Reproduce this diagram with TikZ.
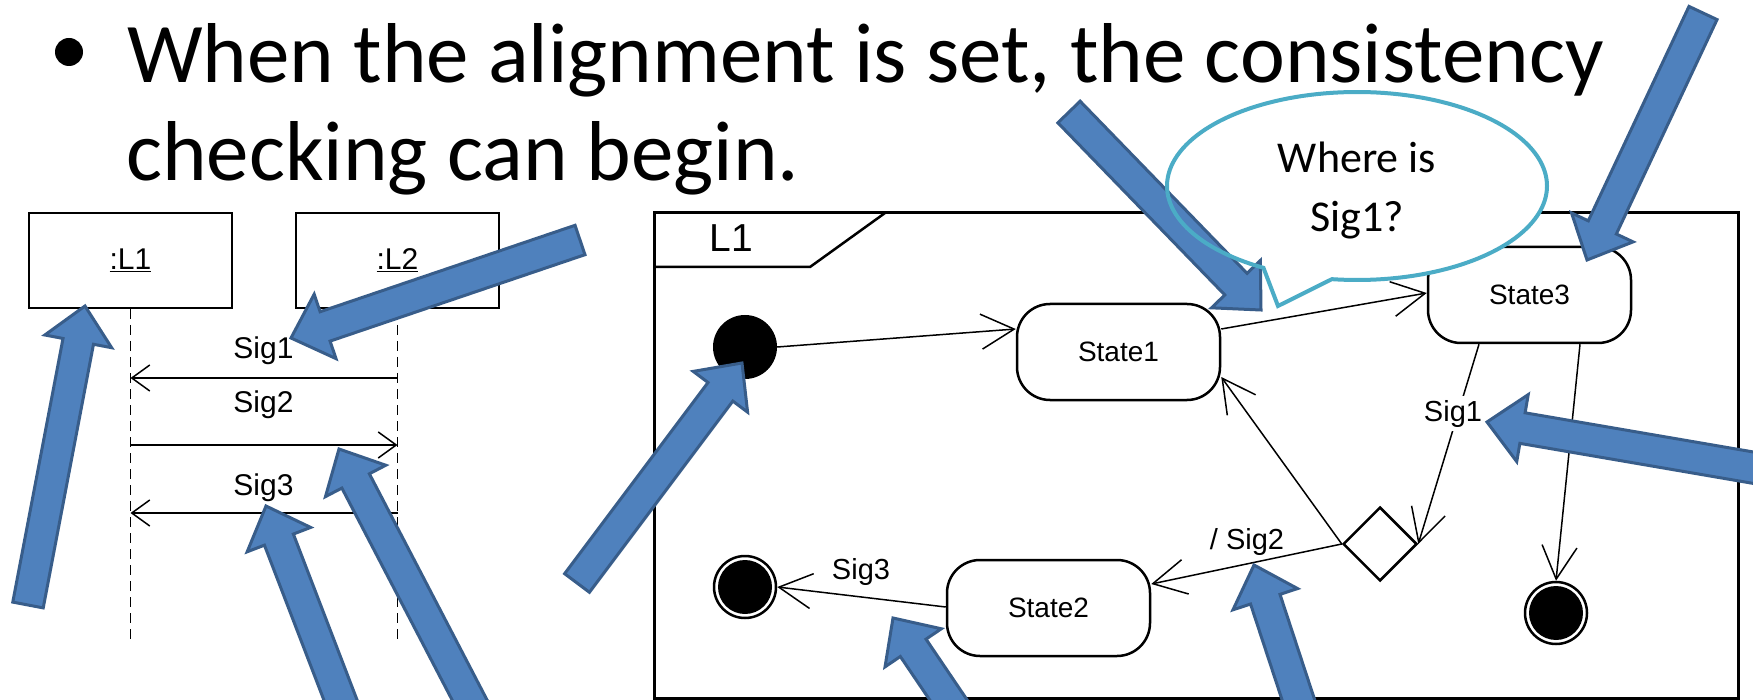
\documentclass[tikz,border=0pt]{standalone}
\usepackage{fontspec}
\setmainfont{Liberation Sans}
\newfontfamily\calibri{Carlito}
\usetikzlibrary{arrows.meta,calc,shapes.geometric}

\definecolor{arrowfill}{HTML}{4F81BD}
\definecolor{arrowline}{HTML}{385D8A}
\definecolor{bubbleline}{HTML}{4BACC6}

\newcommand{\blockarrow}[2]{%
  \coordinate (ba-h) at ($(#2)!36pt!(#1)$);
  \draw[blockarr] ($(#1)!15.5pt!90:(#2)$) -- ($(ba-h)!15.5pt!90:(#2)$) -- ($(ba-h)!34pt!90:(#2)$) -- (#2) -- ($(ba-h)!34pt!-90:(#2)$) -- ($(ba-h)!15.5pt!-90:(#2)$) -- ($(#1)!15.5pt!-90:(#2)$) -- cycle;}

\begin{document}
\begin{tikzpicture}[x=1pt,y=-1pt,
  titlefont/.style={font=\calibri\fontsize{85}{100}\selectfont},
  bubblefont/.style={font=\calibri\fontsize{44}{54}\selectfont},
  lifebox/.style={draw, line width=2pt, minimum width=203pt, minimum height=95pt, inner sep=0pt, font=\fontsize{30}{36}\selectfont},
  lifeline/.style={line width=1.5pt, dash pattern=on 10pt off 6pt},
  msg/.style={line width=1.5pt, -{Straight Barb[length=18pt, width=26pt]}},
  msglab/.style={font=\fontsize{30}{36}\selectfont, inner sep=0pt, anchor=base},
  statebox/.style={draw, line width=2.5pt, rounded corners=33pt, minimum width=203pt, minimum height=96pt, inner sep=0pt, fill=white, font=\fontsize{28}{34}\selectfont},
  initstate/.style={circle, fill=black, minimum size=64pt, inner sep=0pt},
  finalstate/.style={circle, draw=black, line width=2.5pt, fill=white, minimum size=62pt, inner sep=0pt,
     path picture={\fill[black] (path picture bounding box.center) circle (27pt);}},
  choice/.style={diamond, draw, line width=2.5pt, minimum width=74pt, minimum height=74pt, inner sep=0pt, fill=white},
  tr/.style={line width=1.5pt, -{Straight Barb[length=33pt, width=35pt]}},
  trlab/.style={font=\fontsize{29}{34}\selectfont, inner sep=0pt, anchor=base},
  blockarr/.style={fill=arrowfill, draw=arrowline, line width=3pt, line join=miter}
]
\useasboundingbox (0,0) rectangle (1753,700);
\fill[white] (0,0) rectangle (1753,700);
\clip (0,0) rectangle (1753,700);

% ---------- title ----------
\node[circle, fill=black, minimum size=28pt, inner sep=0pt] (bullet) at (69,52) {};
\node[titlefont, anchor=base west, inner sep=0pt] (title1) at (127,83) {When the alignment is set, the consistency};
\node[titlefont, anchor=base west, inner sep=0pt] (title2) at (126,181) {checking can begin.};

% ---------- sequence diagram ----------
\node[lifebox] (b1) at (130.5,260.5) {\underline{:L1}};
\node[lifebox] (b2) at (397.5,260.5) {\underline{:L2}};
\coordinate (ll1) at (130.5,640);
\coordinate (ll2) at (397.5,640);
\draw[lifeline] (b1.south) -- (ll1);
\draw[lifeline] (b2.south) -- (ll2);
\coordinate (m1a) at ($(b1.south)+(0,69)$);
\coordinate (m1b) at ($(b2.south)+(0,69)$);
\coordinate (m2a) at ($(b1.south)+(0,136)$);
\coordinate (m2b) at ($(b2.south)+(0,136)$);
\coordinate (m3a) at ($(b1.south)+(0,204)$);
\coordinate (m3b) at ($(b2.south)+(0,204)$);
\draw[msg] (m1b) -- (m1a);
\draw[msg] (m2a) -- (m2b);
\draw[msg] (m3b) -- (m3a);
\node[msglab] (sig1) at (263.5,359) {Sig1};
\node[msglab] (sig2) at (263.5,412) {Sig2};
\node[msglab] (sig3) at (263.5,495) {Sig3};

% ---------- state machine ----------
\draw[line width=3pt] (654,213) rectangle (1738,698);
\draw[line width=2.5pt] (654,267) -- (810,267) -- (885,213);
\node[font=\fontsize{39}{46}\selectfont, inner sep=0pt, anchor=base] (tabl) at (731,252) {L1};

\node[initstate] (init) at (745,347) {};
\node[finalstate] (fin1) at (745,587) {};
\node[finalstate] (fin2) at (1556,613) {};
\node[statebox] (s1) at (1118.5,352) {State1};
\node[statebox] (s2) at (1048.5,608) {State2};
\node[statebox] (s3) at (1529.5,295) {State3};
\node[choice] (dia) at (1380,544) {};

\draw[tr] (init.east) -- ($(s1.west)+(0,-23)$);
\draw[tr] ($(s1.east)+(0,-23)$) -- ($(s3.west)+(0,-2)$);
\draw[tr] (dia.west) -- ($(s1.east)+(0,25)$);
\draw[tr] ($(s3.south)+(-50.5,0)$) -- (dia.east);
\draw[tr] ($(s3.south)+(50.5,0)$) -- (fin2.north);
\draw[tr] (dia.west) -- ($(s2.east)+(0,-24)$);
\draw[tr] ($(s2.west)+(0,-1)$) -- (fin1.east);

\node[trlab, fill=white, inner sep=4pt] (tsig1) at (1453,421) {Sig1};
\node[trlab] (tsig2) at (1247,549) {/ Sig2};
\node[trlab] (tsig3) at (861,579) {Sig3};

% ---------- callout (fill) ----------
\fill[white] plot[domain=-240.5:97.6, samples=150] ({1357+190*cos(\x)},{186+94*sin(\x)}) -- (1278,306) -- cycle;

% ---------- blue block arrows ----------
\coordinate (A1t) at (28,605);   \coordinate (A1h) at (85,306);
\coordinate (A2t) at (580,240);  \coordinate (A2h) at (291,338);
\coordinate (A3t) at (352,730);  \coordinate (A3h) at (266,506);
\coordinate (A4t) at (480,720);  \coordinate (A4h) at (339,449);
\coordinate (A5t) at (577,583);  \coordinate (A5h) at (742,363);
\coordinate (A6t) at (1069,112); \coordinate (A6h) at (1261,310);
\coordinate (A7t) at (1703,13);  \coordinate (A7h) at (1587,260);
\coordinate (A8t) at (1790,474); \coordinate (A8h) at (1487,422);
\coordinate (A9t) at (1305,720); \coordinate (A9h) at (1254,565);
\coordinate (A10t) at (962,720); \coordinate (A10h) at (893,618);
\blockarrow{A1t}{A1h}
\blockarrow{A2t}{A2h}
\blockarrow{A3t}{A3h}
\blockarrow{A4t}{A4h}
\blockarrow{A5t}{A5h}
\blockarrow{A6t}{A6h}
\blockarrow{A7t}{A7h}
\blockarrow{A8t}{A8h}
\blockarrow{A9t}{A9h}
\blockarrow{A10t}{A10h}

% ---------- callout (outline and text) ----------
\draw[bubbleline, line width=4pt, line join=miter] plot[domain=-240.5:97.6, samples=150] ({1357+190*cos(\x)},{186+94*sin(\x)}) -- (1278,306) -- cycle;
\node[bubblefont, anchor=base, inner sep=0pt] (q1) at (1357,173) {Where is};
\node[bubblefont, anchor=base, inner sep=0pt] (q2) at (1357,232) {Sig1?};
\end{tikzpicture}
\end{document}
